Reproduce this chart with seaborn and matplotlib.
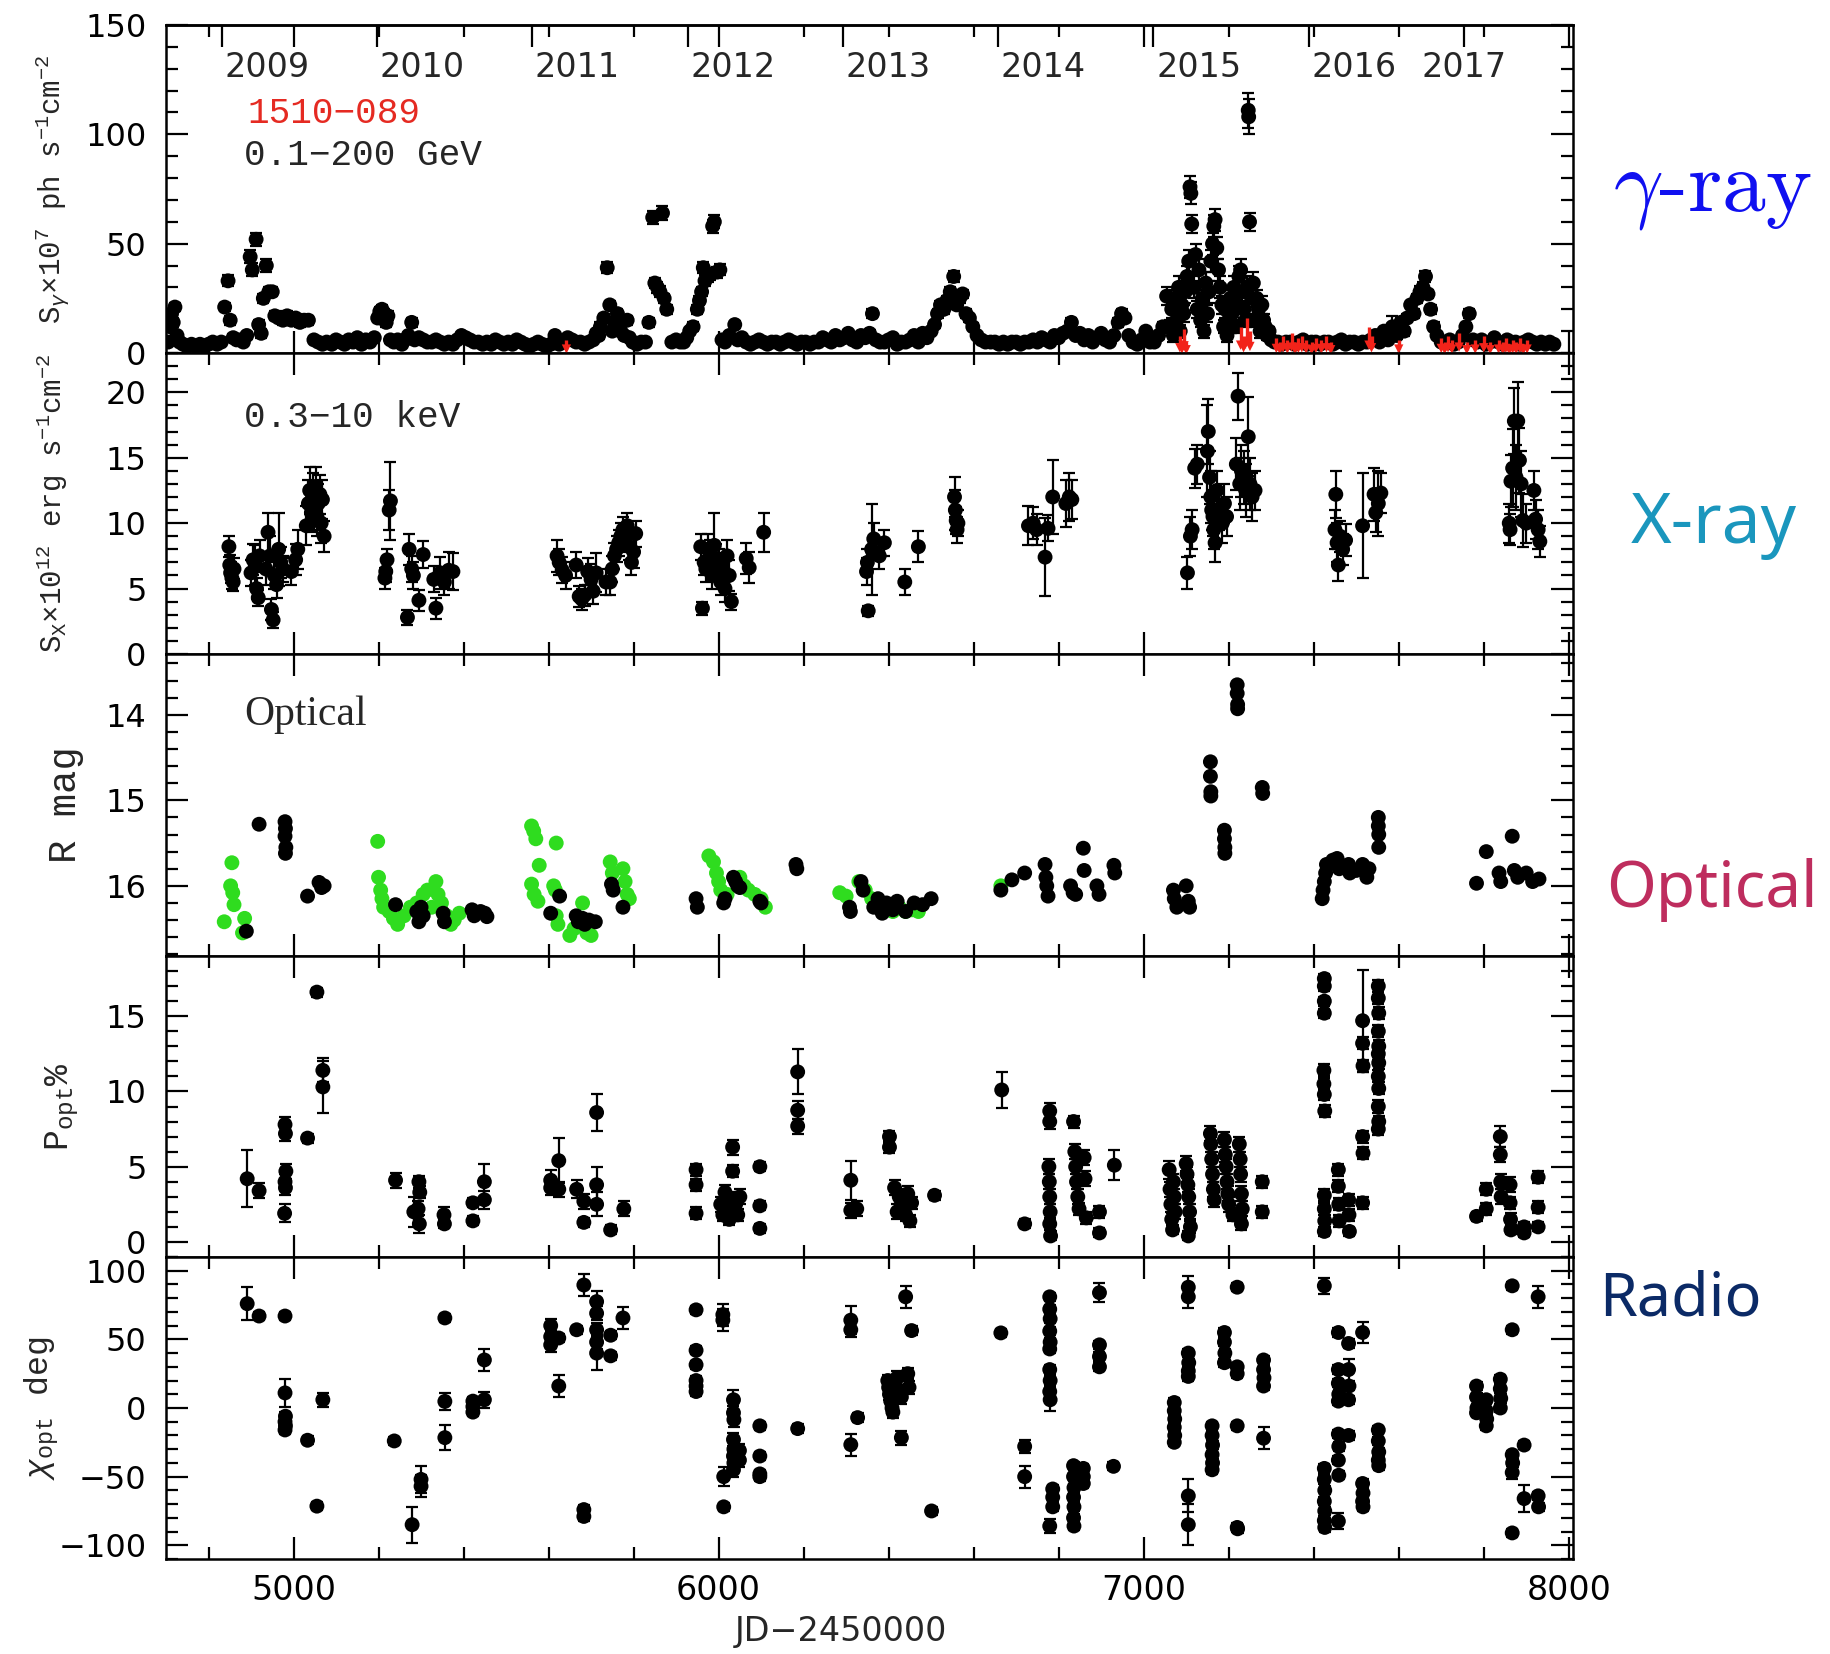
import matplotlib
matplotlib.use("Agg")
import matplotlib.pyplot as plt
import seaborn as sns
import pandas as pd
from matplotlib.ticker import MultipleLocator

# ---------------- data ----------------
year_labels = ["2009", "2010", "2011", "2012", "2013", "2014", "2015", "2016", "2017"]
year_jd = [4832, 5197, 5562, 5927, 6293, 6658, 7023, 7388, 7754]

# gamma-ray flux (JD-2450000, flux x1e7, error)
gamma = [
    (4705, 5, 1.5), (4710, 12, 2), (4713, 18, 2), (4717, 14, 2), (4721, 21, 2), (4726, 8, 1.5), (4732, 5, 1),
    (4740, 4, 1), (4750, 3, 1), (4760, 4, 1), (4770, 3, 1), (4780, 4, 1), (4790, 3, 1), (4800, 4, 1),
    (4810, 5, 1), (4820, 4, 1), (4830, 5, 1),
    (4838, 21, 2), (4846, 33, 2.5), (4851, 15, 2), (4858, 7, 1.5), (4866, 6, 1), (4874, 6, 1.5), (4882, 5, 1),
    (4890, 8, 1.5), (4898, 44, 3), (4903, 38, 3), (4912, 52, 3), (4918, 13, 2), (4924, 9, 2), (4929, 25, 2),
    (4936, 40, 3), (4942, 28, 2), (4950, 28, 2), (4956, 17, 2), (4965, 16, 2), (4975, 15, 2), (4985, 17, 2),
    (4995, 15, 2), (5005, 16, 2), (5015, 14, 2), (5025, 15, 2), (5035, 15, 2),
    (5048, 6, 1), (5058, 5, 1), (5068, 4, 1), (5078, 5, 1), (5090, 4, 1), (5100, 6, 1), (5110, 5, 1),
    (5120, 4, 1), (5130, 6, 1), (5140, 5, 1), (5150, 7, 1), (5160, 4, 1), (5170, 6, 1), (5180, 5, 1), (5190, 7, 1),
    (5198, 16, 2), (5203, 19, 2), (5208, 20, 2), (5213, 18, 2), (5218, 14, 2), (5222, 17, 2), (5228, 6, 1.5),
    (5236, 5, 1), (5245, 6, 1), (5255, 4, 1), (5262, 6, 1), (5270, 8, 1), (5278, 14, 2), (5285, 6, 1),
    (5295, 7, 1), (5305, 6, 1), (5315, 5, 1), (5325, 5, 1), (5335, 6, 1), (5345, 5, 1), (5355, 4, 1),
    (5365, 5, 1), (5375, 4, 1), (5385, 6, 1), (5395, 8, 1), (5405, 7, 1), (5415, 6, 1), (5425, 5, 1),
    (5435, 5, 1), (5445, 4, 1), (5455, 5, 1), (5465, 4, 1), (5475, 6, 1), (5485, 5, 1), (5495, 4, 1),
    (5505, 5, 1), (5515, 4, 1), (5525, 6, 1), (5535, 5, 1), (5545, 4, 1), (5555, 3, 1), (5565, 4, 1),
    (5575, 5, 1), (5585, 4, 1), (5595, 3, 1), (5605, 4, 1), (5615, 8, 1.5), (5625, 4, 1), (5635, 5, 1),
    (5645, 7, 1), (5655, 6, 1), (5665, 5, 1), (5675, 5, 1), (5685, 4, 1), (5695, 5, 1), (5705, 6, 1),
    (5712, 9, 1.5), (5718, 8, 1.5), (5722, 12, 2), (5730, 16, 2), (5738, 39, 2.5), (5744, 22, 2),
    (5750, 10, 1.5), (5756, 13, 2), (5762, 18, 2), (5770, 10, 1.5), (5778, 8, 1.5), (5785, 15, 2),
    (5790, 7, 1.5), (5798, 5, 1), (5808, 4, 1), (5818, 5, 1), (5828, 5, 1), (5836, 14, 2), (5845, 62, 3),
    (5850, 32, 2.5), (5856, 30, 2.5), (5862, 28, 2.5), (5868, 64, 3), (5872, 25, 2), (5878, 20, 2),
    (5890, 5, 1), (5900, 6, 1), (5910, 5, 1), (5918, 5, 1), (5925, 7, 1), (5932, 10, 1.5), (5940, 12, 2),
    (5950, 20, 2), (5955, 24, 2), (5960, 28, 2), (5964, 39, 2.5), (5968, 33, 2.5), (5974, 35, 2.5),
    (5980, 36, 2.5), (5986, 58, 3), (5990, 60, 3), (5996, 37, 2.5), (6003, 38, 2.5), (6008, 6, 1),
    (6015, 5, 1), (6025, 8, 1), (6038, 13, 1.5), (6045, 6, 1), (6055, 7, 1), (6065, 5, 1), (6075, 4, 1),
    (6085, 5, 1), (6095, 6, 1), (6105, 5, 1), (6115, 4, 1), (6125, 5, 1), (6135, 5, 1), (6145, 4, 1),
    (6155, 5, 1), (6165, 6, 1), (6175, 5, 1), (6185, 4, 1), (6195, 5, 1), (6205, 5, 1), (6215, 4, 1),
    (6225, 5, 1), (6235, 5, 1), (6245, 7, 1), (6255, 6, 1), (6265, 5, 1), (6275, 8, 1), (6285, 6, 1),
    (6295, 7, 1), (6305, 9, 1.5), (6315, 6, 1), (6325, 5, 1), (6335, 8, 1), (6345, 7, 1), (6355, 9, 1.5),
    (6362, 18, 2), (6370, 6, 1), (6380, 5, 1), (6390, 5, 1), (6400, 6, 1), (6410, 7, 1), (6420, 4, 1),
    (6430, 5, 1), (6440, 5, 1), (6450, 6, 1), (6460, 8, 1), (6470, 5, 1), (6480, 9, 1.5), (6490, 7, 1),
    (6500, 10, 1.5), (6508, 13, 1.5), (6515, 18, 2), (6522, 22, 2), (6530, 20, 2), (6537, 24, 2),
    (6545, 28, 2), (6553, 35, 2.5), (6560, 22, 2), (6567, 25, 2), (6574, 27, 2), (6582, 18, 2),
    (6590, 16, 2), (6598, 12, 1.5), (6608, 8, 1), (6618, 6, 1), (6628, 5, 1), (6640, 5, 1), (6650, 5, 1),
    (6660, 4, 1), (6670, 5, 1), (6680, 4, 1), (6690, 5, 1), (6700, 5, 1), (6710, 4, 1), (6720, 5, 1),
    (6730, 5, 1), (6740, 6, 1), (6750, 5, 1), (6760, 7, 1), (6770, 6, 1), (6780, 5, 1), (6790, 8, 1),
    (6800, 7, 1), (6810, 9, 1.5), (6820, 10, 1.5), (6830, 14, 2), (6840, 8, 1), (6850, 9, 1.5), (6860, 6, 1),
    (6870, 8, 1), (6880, 5, 1), (6890, 7, 1), (6900, 9, 1.5), (6910, 6, 1), (6920, 5, 1), (6930, 8, 1),
    (6940, 14, 2), (6948, 18, 2), (6956, 16, 2), (6965, 8, 1), (6975, 5, 1), (6985, 4, 1), (6995, 6, 1),
    (7005, 10, 1.5), (7015, 5, 1), (7025, 5, 1), (7035, 8, 1.5), (7045, 12, 2), (7054, 26, 4),
    (7062, 12, 3), (7066, 20, 4), (7070, 8, 3), (7074, 25, 4), (7078, 15, 3), (7082, 30, 5), (7086, 10, 3),
    (7090, 22, 4), (7094, 18, 4), (7098, 28, 5), (7102, 35, 5), (7106, 42, 5), (7109, 76, 5), (7111, 73, 5),
    (7113, 59, 4), (7118, 30, 5), (7122, 45, 5), (7126, 20, 4), (7130, 38, 5), (7134, 15, 3), (7138, 25, 4),
    (7142, 10, 3), (7146, 32, 5), (7150, 18, 4), (7154, 28, 5), (7158, 42, 5), (7162, 50, 5), (7165, 58, 5),
    (7168, 61, 5), (7172, 48, 5), (7176, 38, 5), (7180, 30, 5), (7184, 22, 4), (7188, 12, 3), (7192, 20, 4),
    (7196, 8, 3), (7200, 15, 3), (7204, 25, 4), (7208, 18, 4), (7212, 30, 5), (7216, 12, 3), (7220, 22, 4),
    (7224, 35, 5), (7228, 38, 5), (7232, 28, 5), (7236, 20, 4), (7240, 15, 3), (7243, 30, 5), (7246, 111, 8),
    (7247, 108, 8), (7249, 60, 4), (7254, 25, 4), (7258, 32, 5), (7262, 15, 3), (7266, 25, 4), (7270, 20, 4),
    (7274, 10, 3), (7278, 22, 4), (7282, 15, 3), (7286, 12, 3), (7290, 8, 2), (7295, 10, 2), (7300, 6, 1.5),
    (7308, 5, 1), (7316, 5, 1),
    (7325, 4, 1), (7335, 5, 1), (7345, 5, 1), (7355, 4, 1), (7365, 5, 1), (7375, 6, 1), (7385, 4, 1),
    (7395, 5, 1), (7405, 5, 1), (7415, 4, 1), (7425, 5, 1), (7435, 5, 1), (7445, 4, 1), (7455, 5, 1),
    (7465, 6, 1), (7475, 4, 1), (7485, 5, 1), (7495, 5, 1), (7505, 4, 1), (7515, 5, 1), (7525, 5, 1),
    (7535, 6, 1), (7545, 8, 1.5), (7555, 5, 1), (7565, 10, 1.5), (7575, 6, 1), (7585, 12, 5), (7595, 8, 1.5),
    (7605, 14, 2), (7613, 10, 2), (7620, 16, 2), (7628, 22, 2), (7636, 18, 2), (7643, 25, 2), (7650, 28, 2.5),
    (7657, 30, 2.5), (7663, 35, 2.5), (7669, 27, 2), (7675, 20, 2), (7682, 12, 2), (7690, 8, 1.5),
    (7700, 5, 1), (7710, 5, 1), (7720, 6, 1), (7730, 4, 1), (7740, 5, 1), (7750, 8, 1), (7758, 12, 1.5),
    (7766, 18, 2), (7775, 6, 1), (7785, 5, 1), (7795, 6, 1), (7805, 4, 1), (7815, 5, 1), (7825, 7, 1),
    (7835, 5, 1), (7845, 4, 1), (7855, 6, 1), (7865, 5, 1), (7875, 5, 1), (7885, 4, 1), (7895, 5, 1),
    (7905, 6, 1), (7915, 5, 1), (7925, 4, 1), (7935, 5, 1), (7945, 4, 1), (7955, 5, 1), (7965, 4, 1),
]

# gamma-ray upper limits (red arrows): JD, top of the arrow
gamma_ul = [
    (5642, 6), (7085, 8), (7090, 6), (7095, 11), (7100, 5), (7228, 12), (7235, 8), (7242, 16), (7250, 10),
    (7312, 7), (7320, 5), (7328, 8), (7338, 6), (7348, 9), (7356, 5), (7364, 7), (7372, 8), (7382, 6),
    (7395, 5), (7405, 7), (7418, 6), (7430, 8), (7440, 5), (7530, 12), (7536, 8), (7600, 6), (7700, 7),
    (7708, 5), (7716, 8), (7725, 6), (7742, 9), (7760, 5), (7780, 6), (7800, 8), (7815, 5), (7835, 6),
    (7845, 5), (7852, 7), (7860, 4), (7868, 6), (7876, 5), (7885, 7), (7893, 4), (7902, 6),
]

# X-ray flux (JD, flux x1e12, error)
xray = [
    (4848, 8.2, 0.8), (4850, 6.8, 0.8), (4852, 6.2, 0.8), (4855, 5.8, 0.8), (4858, 5.5, 0.7), (4860, 6.5, 0.8),
    (4900, 6.2, 1.0), (4905, 7.2, 1.2), (4910, 6.8, 1.5), (4913, 5.0, 0.8), (4917, 4.3, 0.6), (4920, 7.5, 1.2),
    (4935, 6.5, 1.2), (4940, 9.3, 1.5), (4945, 7.5, 1.5), (4948, 3.4, 0.8), (4952, 2.6, 0.6), (4955, 6.0, 1.0),
    (4960, 5.3, 1.0), (4965, 8.0, 2.8), (4970, 7.0, 1.2), (4975, 6.5, 1.0),
    (4995, 6.3, 1.0), (5005, 7.2, 1.2), (5010, 8.0, 1.5),
    (5030, 9.8, 1.5), (5035, 11.5, 1.8), (5038, 12.5, 1.8), (5042, 10.8, 1.5), (5045, 12.0, 1.8),
    (5048, 11.0, 1.5), (5052, 12.8, 1.5), (5055, 10.5, 1.5), (5058, 11.5, 1.5), (5062, 12.2, 1.5),
    (5065, 10.0, 1.5), (5068, 11.8, 1.5), (5072, 9.0, 1.2),
    (5215, 5.8, 0.8), (5217, 6.3, 0.8), (5220, 7.2, 0.8), (5225, 11.0, 1.5), (5228, 11.7, 3.0),
    (5268, 2.8, 0.6), (5272, 8.0, 1.2), (5278, 6.5, 1.0), (5282, 6.0, 1.0), (5295, 4.1, 0.8), (5305, 7.6, 1.0),
    (5330, 5.7, 1.0), (5335, 3.5, 0.8), (5345, 6.2, 1.2), (5355, 5.5, 1.0), (5365, 6.4, 1.4), (5375, 6.3, 1.4),
    (5620, 7.5, 1.2), (5625, 7.0, 1.0), (5632, 6.4, 1.0), (5640, 6.0, 1.0),
    (5665, 6.8, 1.0), (5672, 4.4, 0.8), (5678, 4.2, 0.8), (5685, 4.5, 0.8), (5692, 6.3, 1.0), (5700, 5.7, 1.2),
    (5705, 4.8, 1.0), (5712, 6.2, 1.5),
    (5735, 5.5, 1.0), (5745, 5.5, 1.0), (5750, 6.5, 1.0), (5755, 7.5, 1.0), (5760, 8.0, 1.0), (5765, 8.5, 1.0),
    (5770, 9.0, 1.0), (5775, 9.5, 1.0), (5780, 8.8, 1.0), (5785, 9.8, 1.0), (5790, 8.2, 1.0), (5795, 7.0, 1.0),
    (5800, 7.8, 1.2), (5805, 9.2, 1.0),
    (5958, 8.2, 1.0), (5962, 3.5, 0.5), (5966, 7.0, 1.0), (5970, 6.5, 1.0), (5975, 8.0, 1.2), (5980, 7.5, 1.2),
    (5985, 6.0, 1.0), (5990, 8.3, 2.5), (5995, 7.2, 1.2), (6000, 6.8, 1.2), (6005, 5.5, 1.0), (6010, 6.5, 1.2),
    (6015, 5.0, 1.0), (6020, 7.5, 1.2), (6025, 6.0, 1.2), (6030, 4.0, 0.6),
    (6065, 7.3, 1.2), (6072, 6.6, 1.2), (6106, 9.3, 1.5),
    (6348, 6.3, 1.0), (6350, 7.0, 1.0), (6352, 3.3, 0.4), (6360, 8.0, 3.5), (6365, 8.8, 1.2), (6378, 7.5, 1.0),
    (6390, 8.5, 1.0), (6438, 5.5, 1.0), (6470, 8.2, 1.2),
    (6555, 12.0, 1.5), (6557, 11.0, 1.5), (6559, 10.2, 1.0), (6561, 9.5, 1.0), (6563, 10.0, 1.0),
    (6729, 9.8, 1.5), (6740, 10.0, 1.2), (6748, 9.5, 1.2), (6768, 7.4, 3.0), (6775, 9.6, 1.0), (6786, 12.0, 2.8),
    (6817, 11.5, 1.8), (6825, 12.0, 1.8), (6831, 11.8, 1.5),
    (7103, 6.2, 1.2), (7110, 9.0, 1.5), (7114, 9.5, 1.5), (7120, 14.2, 1.5), (7126, 14.5, 1.5),
    (7150, 15.5, 3.5), (7152, 17.0, 2.5), (7155, 13.5, 2.0), (7158, 12.0, 2.0), (7160, 11.0, 1.5),
    (7163, 10.5, 1.5), (7165, 9.5, 1.5), (7168, 8.5, 1.5), (7172, 12.5, 1.5), (7178, 11.0, 1.5),
    (7185, 10.0, 1.5), (7190, 11.5, 1.5), (7195, 10.5, 1.5), (7218, 14.5, 2.0), (7222, 19.7, 1.8),
    (7226, 13.0, 2.0), (7230, 14.0, 2.0), (7236, 13.5, 2.0), (7240, 12.5, 2.0), (7246, 16.6, 3.0),
    (7250, 13.0, 2.0), (7255, 12.0, 1.8), (7262, 12.5, 1.5),
    (7450, 9.5, 1.5), (7452, 12.2, 1.8), (7455, 8.5, 1.5), (7458, 6.8, 1.2), (7462, 9.0, 1.2), (7468, 8.0, 1.2),
    (7475, 8.7, 1.2), (7515, 9.8, 4.0), (7542, 12.2, 2.0), (7546, 10.8, 1.5), (7552, 11.5, 2.5), (7558, 12.3, 1.5),
    (7860, 10.0, 1.5), (7862, 9.5, 1.2), (7864, 13.2, 2.0), (7868, 14.2, 3.0), (7872, 17.8, 2.5),
    (7876, 13.5, 2.5), (7880, 17.8, 3.0), (7884, 14.8, 2.5), (7888, 13.0, 2.5), (7892, 10.2, 2.0),
    (7900, 10.0, 1.5), (7918, 12.5, 1.5), (7922, 10.3, 1.5), (7928, 9.5, 1.5), (7932, 8.6, 1.2),
]

# optical R magnitude, black symbols
rmag_black = [
    (4889, 16.53), (4919, 15.28), (4980, 15.25), (4981, 15.33), (4980, 15.42), (4982, 15.55), (4981, 15.62),
    (5033, 16.12), (5060, 15.96), (5066, 16.02), (5072, 16.0),
    (5240, 16.22), (5290, 16.3), (5295, 16.42), (5300, 16.25), (5305, 16.35), (5352, 16.32), (5355, 16.42),
    (5420, 16.28), (5425, 16.35), (5440, 16.3), (5450, 16.32), (5455, 16.36),
    (5605, 16.32), (5626, 16.12), (5665, 16.35), (5670, 16.42), (5680, 16.38), (5685, 16.45), (5695, 16.4),
    (5710, 16.42), (5748, 15.98), (5752, 16.05), (5775, 16.25),
    (5947, 16.15), (5950, 16.25), (6012, 16.2), (6015, 16.15), (6035, 15.9), (6040, 15.95), (6045, 16.0),
    (6050, 16.02), (6097, 16.18), (6100, 16.2), (6182, 15.75), (6184, 15.8),
    (6308, 16.25), (6310, 16.3), (6335, 15.95), (6340, 16.05), (6365, 16.25), (6375, 16.15), (6385, 16.32),
    (6395, 16.2), (6410, 16.28), (6420, 16.18), (6440, 16.3), (6460, 16.2), (6480, 16.22), (6500, 16.15),
    (6664, 16.05), (6690, 15.93), (6720, 15.85), (6768, 15.75), (6770, 15.9), (6772, 16.0), (6775, 16.12),
    (6828, 16.0), (6834, 16.08), (6840, 16.1), (6858, 15.56), (6860, 15.82), (6890, 16.0), (6895, 16.1),
    (6930, 15.76), (6932, 15.85),
    (7070, 16.05), (7072, 16.15), (7078, 16.25), (7100, 16.0), (7105, 16.18), (7108, 16.25),
    (7157, 14.55), (7157, 14.72), (7158, 14.9), (7158, 14.95), (7190, 15.35), (7190, 15.45), (7191, 15.55),
    (7191, 15.62), (7220, 13.65), (7220, 13.75), (7221, 13.88), (7221, 13.93), (7279, 14.85), (7280, 14.92),
    (7420, 16.15), (7422, 16.05), (7425, 15.95), (7428, 15.85), (7430, 15.75), (7445, 15.7), (7455, 15.68),
    (7460, 15.8), (7482, 15.75), (7485, 15.85), (7500, 15.82), (7515, 15.75), (7525, 15.9), (7530, 15.8),
    (7552, 15.2), (7552, 15.3), (7553, 15.4), (7553, 15.55),
    (7783, 15.97), (7806, 15.6), (7836, 15.85), (7840, 15.95), (7867, 15.42), (7872, 15.82), (7880, 15.9),
    (7900, 15.85), (7915, 15.95), (7930, 15.92),
]

# optical R magnitude, green symbols
rmag_green = [
    (4837, 16.42), (4855, 15.73), (4852, 16.0), (4857, 16.08), (4860, 16.22), (4885, 16.38), (4880, 16.55),
    (5198, 15.48), (5200, 15.9), (5205, 16.05), (5208, 16.15), (5212, 16.25), (5225, 16.3), (5235, 16.38),
    (5245, 16.45), (5260, 16.35), (5275, 16.25), (5290, 16.2), (5305, 16.1), (5315, 16.05), (5325, 16.25),
    (5335, 15.95), (5340, 16.1), (5348, 16.2), (5360, 16.35), (5370, 16.45), (5378, 16.4), (5390, 16.32),
    (5560, 15.3), (5565, 15.36), (5570, 15.45), (5578, 15.76), (5560, 15.98), (5566, 16.1), (5575, 16.18),
    (5618, 15.5), (5612, 16.0), (5616, 16.05), (5618, 16.35), (5622, 16.45), (5650, 16.58), (5660, 16.5),
    (5672, 16.45), (5680, 16.2), (5690, 16.55), (5700, 16.58), (5745, 15.72), (5750, 15.85), (5775, 15.8),
    (5780, 15.95), (5785, 16.1), (5790, 16.15),
    (5977, 15.65), (5988, 15.72), (5995, 15.85), (6000, 15.95), (6005, 16.05), (6020, 16.1), (6050, 15.9),
    (6060, 16.0), (6070, 16.05), (6085, 16.1), (6100, 16.15), (6110, 16.25),
    (6285, 16.08), (6300, 16.12), (6330, 15.95), (6345, 16.05), (6360, 16.15), (6375, 16.2), (6390, 16.25),
    (6410, 16.3), (6425, 16.25), (6440, 16.3), (6455, 16.28), (6470, 16.3), (6664, 16.0),
]

# optical polarisation degree (JD, P %, error)
pol = [
    (4891, 4.2, 1.9), (4919, 3.4, 0.5), (4980, 7.8, 0.5), (4981, 7.2, 0.5), (4982, 4.7, 0.5), (4980, 4.0, 0.5),
    (4981, 3.6, 0.5), (4979, 1.9, 0.6), (5033, 6.9, 0.3), (5055, 16.6, 0.3), (5069, 11.4, 0.8), (5069, 10.3, 1.7),
    (5240, 4.1, 0.5), (5283, 2.0, 1.0), (5295, 4.0, 0.4), (5297, 3.3, 0.4), (5293, 2.2, 0.5), (5296, 1.2, 0.6),
    (5354, 1.8, 0.5), (5355, 1.2, 0.3), (5422, 2.6, 0.3), (5422, 1.4, 0.3), (5449, 4.0, 1.2), (5449, 2.8, 0.6),
    (5605, 4.1, 0.7), (5605, 3.6, 0.5), (5624, 5.4, 1.5), (5624, 3.5, 0.5), (5666, 3.5, 0.6), (5683, 2.7, 0.5),
    (5683, 1.3, 0.3), (5713, 8.6, 1.2), (5713, 3.8, 1.2), (5713, 2.5, 0.8), (5746, 0.8, 0.3), (5777, 2.2, 0.5),
    (5947, 4.8, 0.4), (5947, 3.8, 0.4), (5947, 1.9, 0.4), (6005, 2.5, 0.5), (6010, 1.8, 0.4), (6015, 3.3, 0.5),
    (6020, 2.2, 0.4), (6025, 1.5, 0.4), (6030, 2.8, 0.5), (6035, 2.0, 0.5), (6033, 6.3, 0.5), (6033, 4.7, 0.4),
    (6040, 2.5, 0.5), (6045, 1.8, 0.4), (6050, 3.0, 0.5), (6097, 5.0, 0.3), (6097, 2.4, 0.3), (6097, 0.9, 0.3),
    (6186, 11.3, 1.5), (6186, 8.75, 0.6), (6186, 7.7, 0.5),
    (6311, 4.1, 1.3), (6311, 2.1, 0.5), (6325, 2.2, 0.5), (6402, 7.0, 0.4), (6402, 6.3, 0.4), (6414, 3.6, 0.5),
    (6420, 2.0, 0.5), (6425, 3.0, 0.5), (6430, 2.5, 0.5), (6440, 1.8, 0.4), (6445, 3.2, 0.5), (6450, 1.4, 0.4),
    (6454, 2.6, 0.4), (6508, 3.1, 0.3),
    (6666, 10.1, 1.2), (6720, 1.2, 0.3), (6779, 8.7, 0.5), (6779, 8.0, 0.5), (6777, 5.0, 0.5), (6778, 4.0, 0.5),
    (6779, 3.0, 0.5), (6780, 2.0, 0.5), (6779, 1.2, 0.4), (6781, 0.4, 0.3), (6835, 8.0, 0.4), (6838, 6.0, 0.5),
    (6840, 5.0, 0.5), (6842, 4.0, 0.5), (6845, 3.0, 0.5), (6848, 2.2, 0.4), (6860, 5.6, 0.5), (6862, 4.2, 0.5),
    (6865, 1.6, 0.4), (6896, 2.0, 0.4), (6896, 0.6, 0.3), (6931, 5.1, 1.0),
    (7060, 4.8, 0.6), (7062, 3.5, 0.5), (7064, 2.5, 0.5), (7066, 1.5, 0.4), (7068, 0.8, 0.3), (7070, 4.0, 0.5),
    (7072, 3.0, 0.5), (7074, 2.0, 0.5), (7100, 5.2, 0.5), (7102, 4.5, 0.5), (7104, 3.8, 0.5), (7106, 3.0, 0.5),
    (7108, 2.0, 0.5), (7110, 1.0, 0.4), (7105, 0.4, 0.3),
    (7157, 7.2, 0.5), (7158, 6.5, 0.5), (7160, 5.5, 0.5), (7162, 4.5, 0.5), (7164, 3.5, 0.5), (7166, 2.8, 0.5),
    (7190, 6.8, 0.5), (7192, 5.8, 0.5), (7194, 5.0, 0.5), (7196, 4.0, 0.5), (7198, 3.2, 0.5), (7200, 2.5, 0.5),
    (7210, 1.8, 0.4), (7225, 6.5, 0.5), (7227, 5.5, 0.5), (7228, 4.5, 0.5), (7230, 3.2, 0.5), (7232, 2.2, 0.5),
    (7230, 1.2, 0.4), (7279, 4.0, 0.4), (7279, 2.0, 0.4),
    (7425, 17.5, 0.3), (7425, 17.0, 0.3), (7425, 16.0, 0.3), (7425, 15.2, 0.3), (7424, 11.4, 0.4),
    (7424, 10.5, 0.4), (7425, 9.8, 0.4), (7426, 8.7, 0.4), (7425, 3.1, 0.4), (7425, 2.2, 0.4), (7426, 1.4, 0.4),
    (7425, 0.7, 0.3), (7458, 4.8, 0.4), (7458, 3.7, 0.4), (7459, 2.5, 0.4), (7460, 1.4, 0.4), (7482, 2.8, 0.4),
    (7483, 1.8, 0.4), (7484, 0.7, 0.3),
    (7515, 14.7, 3.4), (7515, 13.2, 0.4), (7516, 11.7, 0.4), (7515, 7.0, 0.4), (7516, 5.9, 0.4), (7515, 2.6, 0.4),
    (7552, 17.0, 0.4), (7552, 16.2, 0.4), (7553, 15.2, 0.4), (7552, 14.0, 0.4), (7553, 13.0, 0.4),
    (7552, 12.5, 0.4), (7553, 11.9, 0.4), (7552, 11.0, 0.4), (7553, 10.2, 0.4), (7552, 9.0, 0.4),
    (7553, 8.0, 0.4), (7552, 7.5, 0.4),
    (7783, 1.7, 0.3), (7806, 3.5, 0.4), (7806, 2.2, 0.4), (7839, 7.0, 0.7), (7839, 5.8, 0.5), (7840, 4.0, 0.5),
    (7841, 3.0, 0.5), (7862, 3.8, 0.5), (7862, 2.6, 0.4), (7863, 1.5, 0.4), (7864, 0.8, 0.3), (7895, 1.0, 0.3),
    (7895, 0.6, 0.3), (7928, 4.3, 0.4), (7928, 2.3, 0.4), (7928, 1.0, 0.3),
]

# optical polarisation angle (JD, chi deg, error)
chi = [
    (4891, 76, 12), (4919, 67, 3), (4980, 67, 3), (4980, 11, 10), (4981, -6, 3), (4980, -10, 3), (4981, -13, 3),
    (4980, -16, 3), (5033, -23.5, 3), (5055, -71.5, 3), (5069, 6, 5),
    (5237, -24, 3), (5279, -85, 13), (5300, -52, 10), (5300, -57, 8), (5356, 65.6, 3), (5356, 4.8, 6),
    (5356, -21.6, 9), (5422, 5, 3), (5422, 1, 3), (5422, -3, 3), (5449, 35, 8), (5449, 6, 6),
    (5605, 60, 5), (5605, 52, 4), (5605, 46, 5), (5624, 51, 3), (5624, 16, 8), (5666, 57, 3), (5683, 89.6, 8),
    (5683, -74, 3), (5683, -79, 3), (5713, 77.5, 8), (5713, 69, 5), (5713, 57, 5), (5713, 48, 5), (5713, 40, 12),
    (5746, 53, 3), (5746, 38, 3), (5775, 65.6, 8),
    (5947, 71.5, 3), (5947, 42, 3), (5947, 31.5, 3), (5947, 20, 3), (5947, 16, 3), (5947, 12, 3), (6010, 68, 8),
    (6010, 64, 8), (6012, -50, 7), (6012, -72, 3), (6035, 6, 7), (6035, -3.5, 5), (6036, -8.5, 5), (6035, -23, 5),
    (6036, -30, 5), (6035, -35, 5), (6036, -40, 5), (6035, -45, 5), (6049, -31, 5), (6049, -38, 5),
    (6097, -13, 3), (6097, -35, 3), (6097, -48, 3), (6097, -50, 3), (6186, -15, 3),
    (6311, 64, 10), (6311, 57, 5), (6311, -26.7, 8), (6327, -7, 3), (6398, 20, 4), (6400, 15, 4), (6402, 10, 4),
    (6405, 5, 4), (6408, 0, 4), (6410, -3, 4), (6415, 18, 5), (6420, 22, 5), (6425, 12, 5), (6430, 8, 5),
    (6430, -21.6, 5), (6440, 81, 8), (6445, 25, 4), (6448, 15, 5), (6454, 56.4, 3), (6501, -75, 3),
    (6664, 54.7, 3), (6720, -28, 5), (6720, -50, 8), (6779, 81, 3), (6779, 72, 3), (6780, 65, 3), (6779, 56, 3),
    (6780, 48, 3), (6779, 43, 3), (6779, 28, 3), (6780, 20, 3), (6779, 12, 3), (6780, 6, 8), (6779, -86, 5),
    (6786, -59, 3), (6786, -65, 3), (6786, -72, 3), (6835, -42, 3), (6835, -50, 3), (6836, -58, 3),
    (6835, -65, 3), (6836, -72, 3), (6835, -80, 3), (6836, -86, 3), (6858, -44, 3), (6858, -50, 3),
    (6858, -55, 3), (6896, 84, 7), (6896, 46, 3), (6896, 37.5, 3), (6896, 30, 3), (6929, -42.5, 3),
    (7072, 4, 3), (7072, -2, 3), (7073, -8, 3), (7072, -14, 3), (7073, -20, 3), (7072, -25, 3), (7105, 88, 8),
    (7105, 81, 8), (7105, 40, 3), (7106, 33, 3), (7105, 27, 3), (7105, 23, 3), (7105, -64, 12), (7105, -85, 15),
    (7161, -13, 3), (7161, -20, 3), (7162, -27, 3), (7161, -34, 3), (7162, -40, 3), (7161, -45, 3),
    (7190, 55, 3), (7190, 48, 3), (7191, 40, 3), (7190, 33, 3), (7220, 88, 3), (7220, 30, 3), (7220, 25, 3),
    (7220, -13, 3), (7220, -87, 3), (7221, -88, 3),
    (7282, 35, 3), (7282, 28, 3), (7283, 22, 3), (7282, 16, 3), (7282, -22, 8),
    (7425, 89, 6), (7425, -44, 3), (7425, -52, 3), (7426, -60, 3), (7425, -68, 3), (7426, -75, 3), (7425, -82, 3),
    (7426, -87, 3), (7458, 55, 3), (7458, 28, 3), (7458, 18, 3), (7459, 10, 3), (7458, 5, 3), (7458, -19, 3),
    (7459, -28, 3), (7458, -38, 3), (7459, -49, 3), (7458, -82.5, 6), (7482, 47, 3), (7482, 28, 8),
    (7483, 16, 3), (7482, 6, 3), (7482, -20, 3), (7515, 55, 8), (7515, -55, 3), (7516, -62, 3), (7515, -68, 3),
    (7516, -72, 3), (7552, -16, 3), (7552, -24, 3), (7553, -32, 3), (7552, -38, 3), (7553, -42, 3),
    (7783, 16, 3), (7783, 8, 3), (7784, 0, 3), (7783, -3.5, 3), (7806, 6, 3), (7806, -2, 3), (7807, -8, 3),
    (7806, -13, 3), (7839, 21, 3), (7839, 14, 3), (7840, 7, 3), (7839, 0, 3), (7867, 89, 3), (7867, 57, 3),
    (7867, -34, 3), (7868, -40, 3), (7867, -47, 5), (7867, -91, 3), (7895, -27, 3), (7895, -66, 10),
    (7928, 81, 8), (7928, -64, 3), (7929, -72, 3),
]

# ---------------- style ----------------
sns.set_theme(style="ticks")
plt.rcParams["font.family"] = ["DejaVu Sans"]
plt.rcParams["mathtext.fontset"] = "custom"
plt.rcParams["mathtext.rm"] = "Liberation Mono"
plt.rcParams["mathtext.it"] = "Liberation Mono:italic"
plt.rcParams["mathtext.bf"] = "Liberation Mono:bold"
plt.rcParams["axes.edgecolor"] = "black"
plt.rcParams["axes.linewidth"] = 1.8
plt.rcParams["xtick.color"] = "black"
plt.rcParams["ytick.color"] = "black"

W, H = 1830, 1654
fig = plt.figure(figsize=(W / 100, H / 100), dpi=100)
fig.patch.set_facecolor("white")

left_px, right_px = 166, 1573
panels_px = [(25, 353), (353, 654), (654, 956), (956, 1257), (1257, 1559)]
axes = []
for top, bot in panels_px:
    ax = fig.add_axes([left_px / W, 1 - bot / H, (right_px - left_px) / W, (bot - top) / H])
    ax.set_facecolor("white")
    axes.append(ax)
ax1, ax2, ax3, ax4, ax5 = axes

MS = 115
MONO = "Liberation Mono"
RED = "#f2231a"


def to_df(rows, cols):
    return pd.DataFrame(rows, columns=cols)


def draw_points(ax, df, color="black", with_err=True, z=3):
    if with_err:
        ax.errorbar(df["jd"], df["val"], yerr=df["err"], fmt="none", ecolor=color,
                    elinewidth=1.6, capsize=4.5, capthick=1.6, zorder=z - 1)
    sns.scatterplot(data=df, x="jd", y="val", ax=ax, color=color, s=MS,
                    edgecolor="none", linewidth=0, zorder=z, legend=False)


# panel 1: gamma rays
g_df = to_df(gamma, ["jd", "val", "err"])
ul_df = to_df(gamma_ul, ["jd", "val"])
ul_df["tip"] = ul_df["val"] * 0.3
draw_points(ax1, g_df)
ax1.errorbar(ul_df["jd"], ul_df["val"], yerr=[ul_df["val"] - ul_df["tip"], ul_df["val"] * 0], fmt="none",
             ecolor=RED, elinewidth=2.4, capsize=0, zorder=5)
sns.scatterplot(data=ul_df, x="jd", y="tip", ax=ax1, color=RED, marker="v", s=45,
                edgecolor="none", linewidth=0, zorder=5, legend=False)

# panel 2: X-rays
draw_points(ax2, to_df(xray, ["jd", "val", "err"]))

# panel 3: optical R mag
sns.scatterplot(data=to_df(rmag_green, ["jd", "val"]), x="jd", y="val", ax=ax3, color="#2fdc1f",
                s=MS, edgecolor="none", linewidth=0, zorder=3, legend=False)
sns.scatterplot(data=to_df(rmag_black, ["jd", "val"]), x="jd", y="val", ax=ax3, color="black",
                s=MS, edgecolor="none", linewidth=0, zorder=4, legend=False)

# panel 4: polarisation degree
draw_points(ax4, to_df(pol, ["jd", "val", "err"]))

# panel 5: polarisation angle
draw_points(ax5, to_df(chi, ["jd", "val", "err"]))

# ---------------- axes formatting ----------------
ylims = [(0, 150), (0, 23), (16.82, 13.29), (-1, 19), (-110, 110)]
ymaj = [50, 5, 1, 5, 50]
ymin = [10, 1, 0.2, 1, 10]
for ax, yl, mj, mn in zip(axes, ylims, ymaj, ymin):
    ax.set_xlim(4700, 8010)
    ax.set_ylim(*yl)
    ax.xaxis.set_major_locator(MultipleLocator(1000))
    ax.xaxis.set_minor_locator(MultipleLocator(200))
    ax.yaxis.set_major_locator(MultipleLocator(mj))
    ax.yaxis.set_minor_locator(MultipleLocator(mn))
    ax.tick_params(which="both", direction="in", top=True, right=True, bottom=True, left=True,
                   width=1.6, colors="black")
    ax.tick_params(which="major", length=16)
    ax.tick_params(which="minor", length=8.5)
    ax.tick_params(axis="y", labelsize=23, pad=14)
    ax.tick_params(axis="x", labelsize=24, pad=11)
    ax.set_xlabel("")
    ax.set_ylabel("")
    for sp in ax.spines.values():
        sp.set_visible(True)
        sp.set_linewidth(1.8)
        sp.set_color("black")
    if ax is not ax5:
        ax.tick_params(axis="x", labelbottom=False)

# year marks on top of the first panel
sec = ax1.secondary_xaxis("top")
sec.set_xticks(year_jd)
sec.tick_params(axis="x", direction="in", length=16, width=1.6, labeltop=False, colors="black")
sec.spines["top"].set_linewidth(1.8)
for lab, jd in zip(year_labels, year_jd):
    if lab == "2017":
        ax1.text(jd, 0.841, lab, transform=ax1.get_xaxis_transform(), ha="center", va="baseline", fontsize=24)
    else:
        ax1.text(jd + 6, 0.841, lab, transform=ax1.get_xaxis_transform(), ha="left", va="baseline", fontsize=24)

# in-panel texts
ax1.text(0.0576, 0.700, "1510\u2212089", transform=ax1.transAxes, color="#e52a22", fontsize=26,
         family=MONO, va="baseline", ha="left")
ax1.text(0.0554, 0.572, "0.1\u2212200 GeV", transform=ax1.transAxes, fontsize=26,
         family=MONO, va="baseline", ha="left")
ax2.text(0.0554, 0.754, "0.3\u221210 keV", transform=ax2.transAxes, fontsize=26,
         family=MONO, va="baseline", ha="left")
ax3.text(0.0554, 0.765, "Optical", transform=ax3.transAxes, fontsize=30,
         family="Liberation Serif", va="baseline", ha="left")

# y labels
ylabels = [
    ("S$_\\gamma$\u00d710$^7$ ph s$^{-1}$cm$^{-2}$", 21, 52),
    ("S$_\\mathrm{X}$\u00d710$^{12}$ erg s$^{-1}$cm$^{-2}$", 21, 52),
    ("R mag", 28, 66),
    ("P$_\\mathrm{opt}$%", 25, 62),
    ("$\\chi_\\mathrm{opt}$ deg", 24, 42),
]
for ax, (txt, fs, xc) in zip(axes, ylabels):
    ax.set_ylabel(txt, fontsize=fs, family=MONO, va="center")
    ax.yaxis.set_label_coords((xc - left_px) / (right_px - left_px), 0.5)

ax5.set_xlabel("JD\u22122450000", fontsize=24)
ax5.xaxis.set_label_coords(0.48, -0.185)

# right-hand band labels
fig.text(1712 / W, 1 - 210 / H, r"$\gamma$-ray", color="#1010f0", fontsize=63, family="cmr10",
         math_fontfamily="cm", ha="center", va="baseline")
fig.text(1714 / W, 1 - 543 / H, "X-ray", color="#1a96bd", fontsize=50, family="Noto Sans",
         ha="center", va="baseline")
fig.text(1712 / W, 1 - 907 / H, "Optical", color="#be2d5e", fontsize=46, family="Noto Sans",
         ha="center", va="baseline")
fig.text(1680 / W, 1 - 1315 / H, "Radio", color="#0b2a66", fontsize=44, family="Noto Sans",
         ha="center", va="baseline")

fig.savefig("out.png", dpi=100, facecolor="white")
